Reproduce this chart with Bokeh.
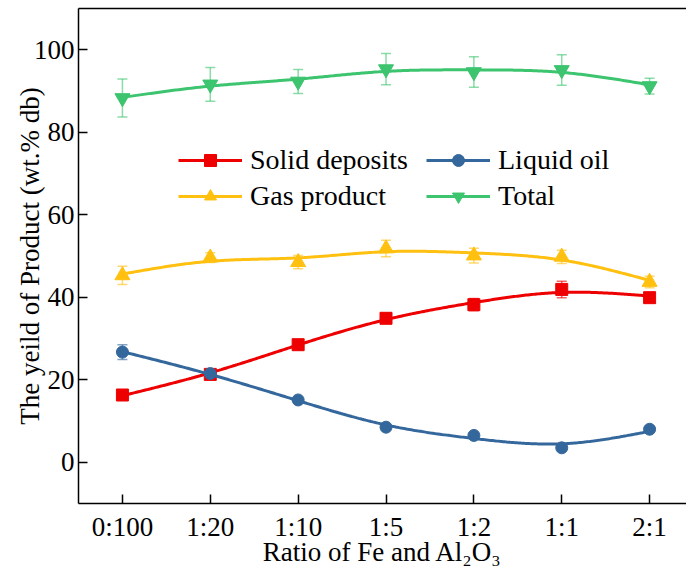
import numpy as np
from bokeh.plotting import figure
from bokeh.models import (ColumnDataSource, Whisker, TeeHead, Legend, LegendItem,
                          LinearAxis, FixedTicker, Range1d)
from bokeh.embed import file_html
from bokeh.resources import INLINE

ratios = ["0:100", "1:20", "1:10", "1:5", "1:2", "1:1", "2:1"]
solid = [16.3, 21.3, 28.5, 34.9, 38.2, 41.9, 39.9]
solid_err = [0.5, 1.0, 0.8, 1.2, 1.5, 2.0, 0.6]
liquid = [26.7, 21.5, 15.1, 8.5, 6.5, 3.5, 8.0]
liquid_err = [1.8, 0.8, 0.6, 0.5, 0.5, 0.5, 0.5]
gas = [45.3, 49.6, 48.5, 51.8, 50.1, 49.8, 43.7]
gas_err = [2.2, 1.2, 1.6, 2.0, 1.8, 1.6, 1.4]
total = [88.3, 91.6, 92.3, 95.3, 94.6, 95.1, 91.2]
total_err = [4.6, 4.1, 2.9, 3.8, 3.7, 3.7, 1.9]
y_ticks = [0, 20, 40, 60, 80, 100]

FONT = "'Liberation Serif'"


def smooth_curve(x, y, lam=0.08, n=300):
    """Cubic smoothing spline (Reinsch) of the data points, used only to draw the line."""
    x = np.asarray(x, float)
    y = np.asarray(y, float)
    m = len(x)
    h = np.diff(x)
    Q = np.zeros((m, m - 2))
    R = np.zeros((m - 2, m - 2))
    for j in range(1, m - 1):
        Q[j - 1, j - 1] = 1 / h[j - 1]
        Q[j, j - 1] = -1 / h[j - 1] - 1 / h[j]
        Q[j + 1, j - 1] = 1 / h[j]
        R[j - 1, j - 1] = (h[j - 1] + h[j]) / 3
        if j < m - 2:
            R[j - 1, j] = h[j] / 6
            R[j, j - 1] = h[j] / 6
    gam = np.linalg.solve(R + lam * Q.T @ Q, Q.T @ y)
    g = y - lam * Q @ gam
    M = np.concatenate([[0.0], gam, [0.0]])
    xs = np.linspace(x[0], x[-1], n)
    idx = np.clip(np.searchsorted(x, xs) - 1, 0, m - 2)
    x0, x1 = x[idx], x[idx + 1]
    hh = x1 - x0
    t0 = x1 - xs
    t1 = xs - x0
    ys = (M[idx] * t0 ** 3 / (6 * hh) + M[idx + 1] * t1 ** 3 / (6 * hh)
          + (g[idx] / hh - M[idx] * hh / 6) * t0
          + (g[idx + 1] / hh - M[idx + 1] * hh / 6) * t1)
    return xs, ys


xpos = list(range(len(ratios)))

p = figure(width=686, height=569, output_backend="svg", toolbar_location=None,
           x_range=Range1d(-0.5, 6.42), y_range=Range1d(-10, 110),
           min_border_left=78, min_border_right=0, min_border_top=8,
           min_border_bottom=0)
p.outline_line_color = None
p.xgrid.visible = False
p.ygrid.visible = False
p.background_fill_color = "white"

series = [
    ("Solid deposits", solid, solid_err, "#ee0000", "square", 12),
    ("Liquid oil", liquid, liquid_err, "#34679c", "circle", 12),
    ("Gas product", gas, gas_err, "#ffc010", "triangle", 15),
    ("Total", total, total_err, "#3cc46e", "inverted_triangle", 15),
]

items = []
for label, vals, errs, color, marker, size in series:
    src = ColumnDataSource(dict(x=xpos, y=vals,
                                upper=[v + e for v, e in zip(vals, errs)],
                                lower=[v - e for v, e in zip(vals, errs)]))
    w = Whisker(base="x", upper="upper", lower="lower", source=src,
                dimension="height", line_color=color, line_alpha=0.6, line_width=1.5,
                upper_head=TeeHead(size=10, line_color=color, line_alpha=0.6, line_width=1.5),
                lower_head=TeeHead(size=10, line_color=color, line_alpha=0.6, line_width=1.5),
                level="underlay")
    p.add_layout(w)
    xs, ys = smooth_curve(xpos, vals)
    lr = p.line(xs, ys, line_color=color, line_width=3)
    sr = p.scatter("x", "y", source=src, marker=marker, size=size,
                   fill_color=color, line_color=color)
    items.append(LegendItem(label=label, renderers=[lr, sr]))

# axes styling
p.xaxis.ticker = FixedTicker(ticks=xpos)
p.xaxis.major_label_overrides = {i: r for i, r in enumerate(ratios)}
p.yaxis.ticker = FixedTicker(ticks=y_ticks)
for ax in (p.xaxis[0], p.yaxis[0]):
    ax.axis_line_color = "black"
    ax.axis_line_width = 1.5
    ax.major_tick_in = 9
    ax.major_tick_out = 0
    ax.major_tick_line_width = 1.5
    ax.minor_tick_line_color = None
    ax.major_label_text_font = FONT
    ax.major_label_text_font_size = "27px"
    ax.major_label_text_color = "black"
    ax.axis_label_text_font = FONT
    ax.axis_label_text_font_size = "27px"
    ax.axis_label_text_font_style = "normal"
    ax.axis_label_text_color = "black"

p.xaxis.major_label_standoff = 8
p.xaxis.axis_label = "Ratio of Fe and Al\u2082O\u2083"
p.xaxis.axis_label_standoff = -8
p.yaxis.major_label_standoff = 4
p.yaxis.axis_label = "The yeild of Product (wt.% db)"
p.yaxis.axis_label_standoff = -14

top = LinearAxis(ticker=FixedTicker(ticks=[]), major_label_text_font_size="0px",
                 axis_line_width=1.5, major_tick_line_color=None,
                 minor_tick_line_color=None)
p.add_layout(top, "above")

legend = Legend(items=[items[0], items[1], items[2], items[3]],
                orientation="horizontal", ncols=2,
                location=(100, 291), padding=0, margin=0,
                spacing=4, glyph_width=64, glyph_height=30, label_height=30,
                label_width=172,
                label_standoff=8, background_fill_alpha=0, border_line_color=None,
                label_text_font=FONT, label_text_font_size="28px",
                label_text_color="black")
p.add_layout(legend, "center")

open("out.html", "w").write(file_html(p, INLINE))
